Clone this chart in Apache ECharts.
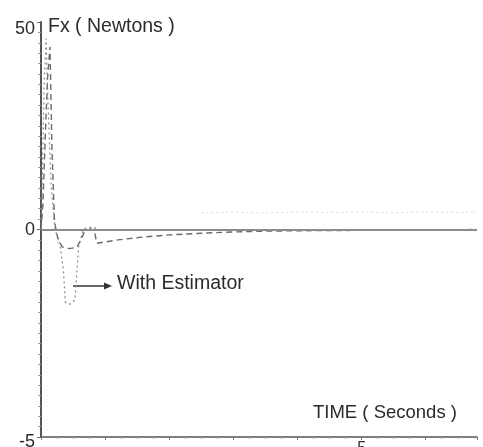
<!DOCTYPE html>
<html>
<head>
<meta charset="utf-8">
<script src="https://cdn.jsdelivr.net/npm/echarts@6/dist/echarts.min.js"></script>
<style>
  html, body { margin: 0; padding: 0; background: #fff; }
  #chart { width: 483px; height: 447px; }
</style>
</head>
<body>
<div id="chart"></div>
<script>
// Fx response over time, with and without the estimator
const timeWithout = [0, 0.03, 0.07, 0.10, 0.14, 0.17, 0.21, 0.26, 0.33, 0.44, 0.56, 0.62, 0.68, 0.78, 0.84, 0.87, 1.0, 1.2, 1.6, 2.0, 2.5, 3.0, 3.5, 4.0, 5.0, 6.0, 6.8];
const forceWithout = [0, 0.6, 2.4, 3.6, 4.4, 2.0, 0.2, -0.2, -0.42, -0.46, -0.43, -0.25, -0.05, 0.02, -0.1, -0.33, -0.3, -0.25, -0.18, -0.13, -0.09, -0.06, -0.04, -0.03, -0.02, -0.01, 0];

const timeWith = [0, 0.02, 0.05, 0.08, 0.11, 0.16, 0.22, 0.30, 0.35, 0.38, 0.45, 0.53, 0.56, 0.59, 0.66, 0.72, 0.82, 0.90, 1.0, 1.5, 2.0];
const forceWith = [0, 1.2, 3.6, 4.6, 3.0, 1.0, 0, -0.4, -1.0, -1.75, -1.8, -1.7, -1.0, -0.4, 0, 0.05, 0.05, 0, 0, 0, 0];

// faint trace that sits just above zero late in the run
const timeFaint = [2.5, 3.0, 3.5, 4.0, 4.5, 5.0, 5.5, 6.0, 6.5, 6.8];
const forceFaint = [0.40, 0.42, 0.40, 0.42, 0.41, 0.42, 0.40, 0.42, 0.41, 0.42];

const yTicks = [-5, 0, 5];
const yTickText = ['-5', '0', '50'];
const yTickStyle = ['lo', 'mid', 'hi'];
const xTicks = [5];
const xTickText = ['5'];

const pairs = (xs, ys) => xs.map((x, i) => [x, ys[i]]);
const font = '"Liberation Sans", Arial, sans-serif';
const ink = '#2b2b2b';

const chart = echarts.init(document.getElementById('chart'));
chart.setOption({
  animation: false,
  backgroundColor: '#fff',
  grid: { left: 41, right: 6, top: 22, bottom: 10, containLabel: false, outerBoundsMode: 'none' },
  xAxis: {
    type: 'value', min: 0, max: 6.8, interval: 1,
    axisLine: { show: true, onZero: false, lineStyle: { color: '#555', width: 1.5 } },
    axisTick: { show: true, length: 3, lineStyle: { color: '#777' } },
    minorTick: { show: true, splitNumber: 4, length: 2, lineStyle: { color: '#aaa' } },
    splitLine: { show: false },
    axisLabel: {
      margin: 4, fontSize: 16, color: ink, fontFamily: font,
      formatter: v => { const i = xTicks.indexOf(v); return i >= 0 ? xTickText[i] : ''; }
    }
  },
  yAxis: {
    type: 'value', min: -5, max: 5, interval: 5,
    axisLine: { show: true, lineStyle: { color: '#555', width: 2 } },
    axisTick: { show: true, length: 4, lineStyle: { color: '#666' } },
    minorTick: { show: true, splitNumber: 20, length: 3, lineStyle: { color: '#999' } },
    splitLine: { show: false },
    axisLabel: {
      margin: 6, fontSize: 18, color: ink, fontFamily: font,
      formatter: v => {
        const i = yTicks.indexOf(v);
        return i >= 0 ? '{' + yTickStyle[i] + '|' + yTickText[i] + '}' : '';
      },
      rich: {
        hi: { fontSize: 18, fontFamily: font, color: ink, padding: [14, 0, 0, 0] },
        mid: { fontSize: 18, fontFamily: font, color: ink, padding: [2, 0, 0, 0] },
        lo: { fontSize: 18, fontFamily: font, color: ink, padding: [10, 0, 0, 0] }
      }
    }
  },
  series: [
    {
      type: 'line', data: pairs(timeFaint, forceFaint), showSymbol: false,
      lineStyle: { color: '#dcdcdc', width: 1, type: [2, 3] }, z: 1
    },
    {
      type: 'line', data: pairs(timeWithout, forceWithout), showSymbol: false,
      lineStyle: { color: '#6a6a6a', width: 1.4, type: [6, 4] },
      markLine: {
        silent: true, symbol: 'none', label: { show: false },
        lineStyle: { color: '#8c8c8c', width: 2, type: 'solid' },
        data: [{ yAxis: 0 }]
      },
      z: 3
    },
    {
      type: 'line', data: pairs(timeWith, forceWith), showSymbol: false,
      lineStyle: { color: '#8a8a8a', width: 1.2, type: [2, 3] }, z: 2
    }
  ],
  graphic: [
    { type: 'text', left: 48, top: 17, style: { text: 'Fx ( Newtons )', fontSize: 19.5, fontFamily: font, fill: ink } },
    { type: 'text', left: 313, top: 403, style: { text: 'TIME ( Seconds )', fontSize: 18.5, fontFamily: font, fill: ink } },
    { type: 'text', left: 117, top: 274, style: { text: 'With Estimator', fontSize: 19.5, fontFamily: font, fill: ink } },
    { type: 'line', shape: { x1: 73, y1: 286, x2: 106, y2: 286 }, style: { stroke: '#333', lineWidth: 1.5 } },
    { type: 'polygon', shape: { points: [[112, 286], [104, 282.5], [104, 289.5]] }, style: { fill: '#333' } }
  ]
});
</script>
</body>
</html>
